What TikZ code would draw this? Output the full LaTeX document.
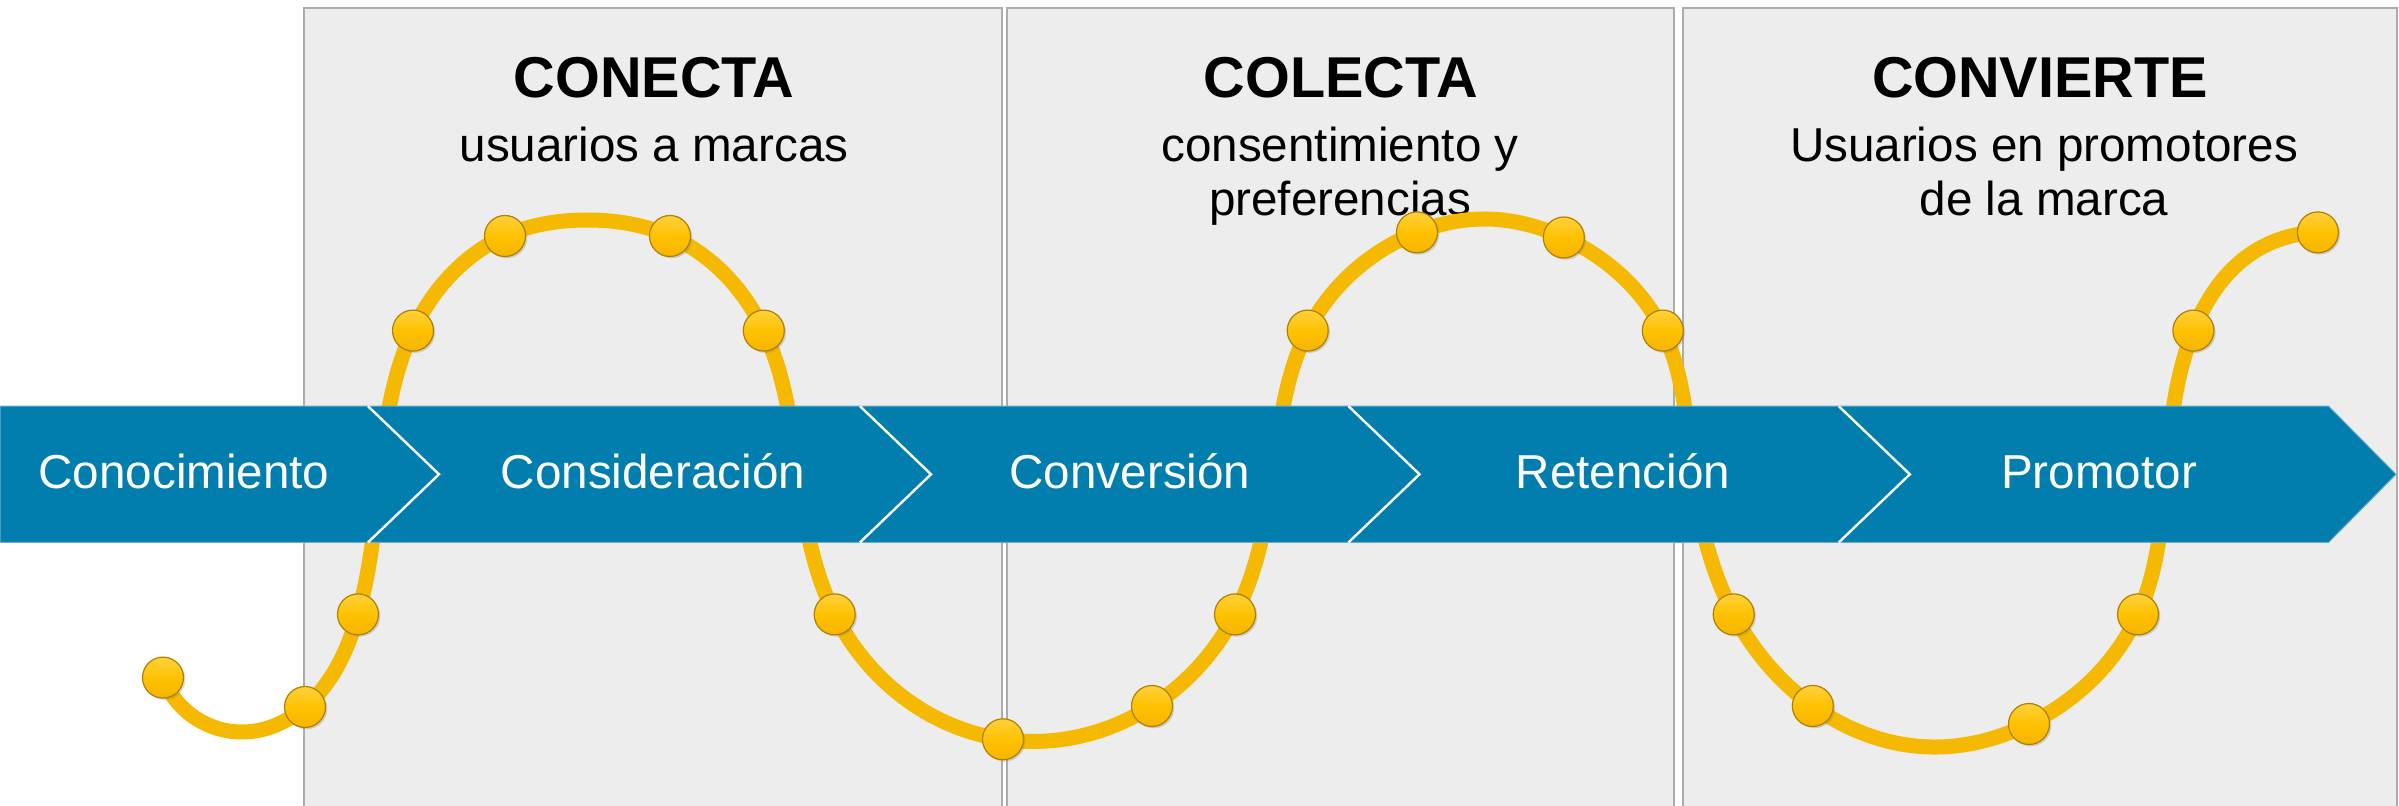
\documentclass[tikz,border=0pt]{standalone}
\usepackage{fontspec}
\setmainfont{Liberation Sans}
\usetikzlibrary{shadows,hobby}
\definecolor{bandblue}{RGB}{1,126,174}
\definecolor{bandedge}{RGB}{110,170,200}
\definecolor{panelfill}{RGB}{237,237,237}
\definecolor{panelline}{RGB}{172,172,172}
\definecolor{curveyellow}{RGB}{244,185,0}
\definecolor{dotyellow}{RGB}{255,194,0}
\definecolor{dotlight}{RGB}{255,208,60}
\definecolor{dotdark}{RGB}{246,180,0}
\definecolor{dotrim}{RGB}{176,128,0}
\begin{document}
\begin{tikzpicture}[x=0.5pt,y=-0.5pt,
  panel/.style={fill=panelfill,draw=panelline,line width=1pt},
  bandshape/.style={fill=bandblue,draw=bandedge,line width=0.5pt},
  chevline/.style={draw=white,line width=1.2pt},
  stagelabel/.style={text=white,font=\fontsize{23.8}{26}\selectfont,anchor=base,inner sep=0pt},
  titlelabel/.style={font=\bfseries\fontsize{28.8}{32}\selectfont,anchor=base,inner sep=0pt},
  sublabel/.style={font=\fontsize{23.8}{27}\selectfont,anchor=base,inner sep=0pt},
  curveline/.style={draw=curveyellow,line width=7.5pt,line cap=round,line join=round},
  dotnode/.style={circle,minimum size=20.5pt,inner sep=0pt,draw=dotrim,line width=0.6pt,
    top color=dotlight,bottom color=dotdark,middle color=dotyellow,
    drop shadow={shadow xshift=0.9pt,shadow yshift=-0.9pt,opacity=0.3}}
]
\useasboundingbox (0,0) rectangle (2399,806);
% dot positions
\coordinate (k1) at (163,677.6);
\coordinate (k2) at (305,707);
\coordinate (k3) at (358,614.4);
\coordinate (k4) at (413,330.6);
\coordinate (k5) at (505,236);
\coordinate (k6) at (670,236);
\coordinate (k7) at (763.8,330.6);
\coordinate (k8) at (834.7,614.4);
\coordinate (k9) at (1003,739.3);
\coordinate (k10) at (1152,706);
\coordinate (k11) at (1235,614.4);
\coordinate (k12) at (1307.7,330.6);
\coordinate (k13) at (1417,232.4);
\coordinate (k14) at (1563.8,237.5);
\coordinate (k15) at (1662.8,330.6);
\coordinate (k16) at (1733.7,614.4);
\coordinate (k17) at (1812.8,706);
\coordinate (k18) at (2029,724);
\coordinate (k19) at (2138,614.4);
\coordinate (k20) at (2193.4,330.6);
\coordinate (k21) at (2317.9,232.4);
% extra curve points
\coordinate (a1) at (243,732);
\coordinate (a2) at (380,474);
\coordinate (a3) at (587,220);
\coordinate (a4) at (798,474);
\coordinate (a5) at (1273,474);
\coordinate (a6) at (1486,219);
\coordinate (a7) at (1693,474);
\coordinate (a8) at (1932,747);
\coordinate (a9) at (2166,474);
\coordinate (a10) at (2245,258);

\begin{scope}
\clip (0,0) rectangle (2399,806);
\path[panel] (303.6,7.7) rectangle (1001.5,830);
\path[panel] (1006.6,7.7) rectangle (1674,830);
\path[panel] (1682.7,7.7) rectangle (2396.9,830);
\end{scope}

\node[titlelabel] (title1) at (654,97.7) {CONECTA};
\node[sublabel] (sub1) at (654,162) {usuarios a marcas};
\node[titlelabel] (title2) at (1341,97.7) {COLECTA};
\node[sublabel] (sub2a) at (1340,162) {consentimiento y};
\node[sublabel] (sub2b) at (1340,216) {preferencias};
\node[titlelabel] (title3) at (2040,97.7) {CONVIERTE};
\node[sublabel] (sub3a) at (2044,162) {Usuarios en promotores};
\node[sublabel] (sub3b) at (2044,216) {de la marca};

\draw[curveline,use Hobby shortcut] (k1) .. (a1) .. (k2) .. (k3) .. (a2) .. (k4) .. (k5) .. (a3) .. (k6) .. (k7) .. (a4) .. (k8) .. (k9) .. (k10) .. (k11) .. (a5) .. (k12) .. (k13) .. (a6) .. (k14) .. (k15) .. (a7) .. (k16) .. (k17) .. (a8) .. (k18) .. (k19) .. (a9) .. (k20) .. (a10) .. (k21);

\path[bandshape] (0,406.2) -- (2328.6,406.2) -- (2396,474.3) -- (2328.6,542.4) -- (0,542.4) -- cycle;
\foreach \nx in {368,860,1348.5,1838.8}{
  \draw[chevline] (\nx,406.2) -- ({\nx+71},474.3) -- (\nx,542.4);
}

\node[stagelabel] (s1) at (184,488.4) {Conocimiento};
\node[stagelabel] (s2) at (653,488.4) {Consideración};
\node[stagelabel] (s3) at (1130,488.4) {Conversión};
\node[stagelabel] (s4) at (1623,488.4) {Retención};
\node[stagelabel] (s5) at (2099,488.4) {Promotor};

\foreach \i in {1,...,21}{
  \node[dotnode] (d\i) at (k\i) {};
}
\end{tikzpicture}
\end{document}
